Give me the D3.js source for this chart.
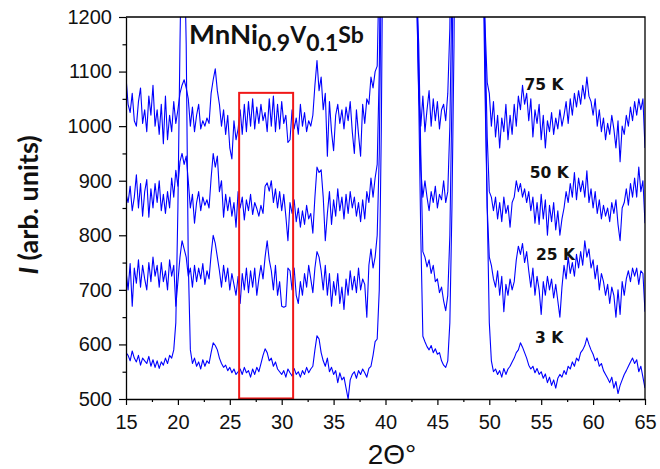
<!DOCTYPE html>
<html>
<head>
<meta charset="utf-8">
<script src="https://cdn.jsdelivr.net/npm/d3@7/dist/d3.min.js"></script>
<style>
  html, body { margin: 0; padding: 0; background: #fff; }
  svg { display: block; }
</style>
</head>
<body>
<svg id="chart" width="660" height="469"></svg>
<script>
// XRD scans of MnNi0.9V0.1Sb at four temperatures, 2θ from 15° to 65° in 0.2° steps
const scanStart = 15;
const scanStep = 0.2;

const i75K = [
  1090, 1040, 1025, 1060, 1010,  1000, 1045, 1070, 1005, 1030,
  990, 1055, 1020, 1075, 1000,   1030, 985, 1040, 968, 1055,
  975, 1020, 990, 1045, 1005,    1030, 1060, 1075, 1085, 1070,
  1050, 1000, 1035, 990, 1020,   1040, 995, 1010, 1000, 1015,
  1005, 1060, 1085, 1105, 1065,  1040, 1000, 1030, 985, 1020,
  960, 940, 1010, 975, 995,      1030, 985, 1040, 990, 1045,
  1000, 1050, 995, 1035, 1005,   1040, 1010, 1025, 990, 1050,
  1000, 1055, 990, 1040, 995,    1045, 1005, 1020, 970, 975,
  1030, 995, 1015, 985, 1040,    1000, 1025, 990, 1010, 1000,
  1020, 1075, 1120, 1065, 1090,  1030, 1060, 945, 1045, 990,
  955, 1020, 1040, 1005, 1030,   995, 1035, 1010, 1045, 990,
  950, 1030, 985, 945, 1040,     1005, 1050, 1040, 1090, 1070,
  1100, 1110, 1300, 1800, 2500,  3200, 4000, 5000, 5000, 4500,
  4000, 3500, 3000, 2500, 2100,  1800, 1600, 1450, 1350, 1280,
  1250, 1060, 1000, 1055, 990,   1030, 1065, 1000, 1050, 1010,
  1045, 995, 1030, 1040, 1010,   1060, 1180, 1500, 2200, 3000,
  4000, 5000, 5000, 4500, 4000,  3500, 3000, 2500, 2200, 1900,
  1700, 1500, 1300, 1180, 1080,  1060, 1000, 1045, 980, 1020,
  960, 1015, 990, 1040, 975,     1020, 985, 1040, 1000, 1055,
  1030, 1075, 1040, 1060, 1010,  1050, 980, 1030, 1005, 1040,
  975, 1020, 960, 1010, 990,     1025, 985, 1015, 995, 1030,
  1000, 1020, 1045, 1005, 1050,  1020, 1060, 1035, 1065, 1040,
  1075, 1050, 1090, 1055, 1045,  1020, 1050, 1000, 1030, 990,
  1015, 975, 1005, 985, 1020,    995, 960, 1010, 935, 1000,
  985, 1020, 1000, 1035, 1010,   1045, 1020, 1050, 1030, 1050,
  960
];

const i50K = [
  876, 860, 890, 845, 870,   911, 850, 895, 835, 880,
  902, 833, 885, 850, 895,   860, 900, 845, 875, 840,
  880, 850, 905, 870, 919,   890, 935, 950, 930, 945,
  900, 850, 875, 822, 860,   880, 845, 870, 855, 865,
  850, 905, 950, 925, 945,   880, 900, 833, 875, 845,
  870, 835, 860, 815, 880,   850, 870, 828, 865, 845,
  875, 838, 860, 849, 835,   855, 840, 890, 896, 881,
  900, 860, 885, 850, 880,   845, 875, 835, 790, 860,
  840, 865, 825, 850, 815,   845, 820, 855, 830, 840,
  804, 870, 925, 915, 920,   870, 790, 840, 880, 820,
  865, 835, 885, 845, 870,   830, 875, 840, 880, 850,
  870, 835, 860, 825, 865,   830, 880, 860, 905, 870,
  905, 930, 1100, 1500, 2200,  3000, 4000, 5000, 5000, 4500,
  4000, 3500, 3000, 2500, 2200,  1900, 1700, 1550, 1450, 1350,
  1280, 1100, 920, 870, 900,   870, 845, 880, 860, 890,
  850, 875, 865, 900, 860,   880, 1000, 1250, 1800, 2600,
  3500, 5000, 5000, 4500, 4000,  3500, 3000, 2600, 2300, 2000,
  1800, 1550, 1350, 1150, 980,   880, 870, 845, 870, 830,
  860, 825, 870, 840, 855,   815, 860, 870, 900, 880,
  895, 870, 885, 860, 880,   845, 870, 822, 860, 820,
  875, 830, 865, 800, 855,   825, 860, 810, 845, 800,
  830, 850, 880, 860, 895,   870, 915, 865, 905, 880,
  900, 870, 918, 860, 885,   850, 880, 840, 865, 830,
  855, 835, 850, 825, 860,   840, 865, 820, 790, 850,
  860, 885, 855, 895, 870,   905, 870, 925, 880, 900,
  822
];

const i25K = [
  735, 700, 748, 670, 740,   712, 755, 705, 745, 720,
  700, 750, 715, 760, 725,   745, 705, 750, 715, 735,
  700, 755, 725, 745, 670,   715, 760, 790, 775, 760,
  725, 740, 705, 745, 715,   740, 720, 748, 710, 735,
  720, 765, 800, 785, 760,   735, 705, 745, 715, 740,
  700, 730, 710, 690, 725,   675, 730, 700, 740, 695,
  735, 705, 740, 690, 720,   745, 720, 760, 790, 755,
  735, 700, 745, 690, 715,   670, 668, 670, 740, 735,
  700, 740, 690, 675, 715,   690, 730, 705, 745, 720,
  695, 740, 770, 760, 735,   700, 745, 690, 730, 670,
  715, 690, 730, 675, 705,   664, 720, 690, 735, 700,
  725, 695, 740, 700, 720,   710, 650, 745, 775, 740,
  760, 800, 950, 1300, 2000,  3000, 4000, 5000, 5000, 4500,
  4000, 3500, 3000, 2600, 2300,  2000, 1800, 1600, 1450, 1350,
  1250, 1150, 950, 770, 760,   742, 755, 730, 745, 715,
  720, 695, 705, 680, 662,   690, 800, 1050, 1500, 2200,
  3500, 5000, 5000, 4500, 4000,  3500, 3000, 2700, 2400, 2100,
  1900, 1600, 1300, 1050, 850,   760, 745, 720, 705, 735,
  690, 725, 660, 710, 690,   720, 700, 715, 755, 780,
  765, 785, 750, 770, 735,   705, 740, 690, 725, 700,
  655, 715, 690, 725, 700,   720, 685, 710, 680, 650,
  705, 745, 720, 760, 730,   750, 725, 765, 740, 770,
  745, 790, 760, 775, 740,   755, 720, 745, 700, 730,
  715, 690, 710, 675, 705,   690, 650, 700, 655, 715,
  690, 720, 735, 715, 740,   725, 740, 710, 735, 730,
  660
];

const i3K = [
  585, 580, 570, 588, 575,   568, 580, 562, 575, 570,
  565, 578, 560, 572, 558,   570, 556, 568, 562, 575,
  565, 580, 575, 590, 640,   850, 1150, 1400, 1350, 1150,
  750, 590, 565, 575, 560,   568, 555, 572, 560, 570,
  565, 585, 603, 598, 590,   575, 565, 558, 562, 552,
  558, 548, 555, 545, 550,   555, 545, 558, 548, 552,
  540, 555, 545, 558, 550,   565, 580, 592, 585, 570,
  575, 560, 568, 555, 550,   545, 552, 540, 555, 548,
  542, 556, 545, 550, 540,   552, 545, 558, 548, 555,
  560, 590, 616, 610, 585,   570, 560, 575, 550, 558,
  545, 552, 530, 548, 535,   540, 520, 500, 535, 545,
  550, 538, 552, 545, 555,   548, 540, 556, 560, 580,
  605, 610, 700, 1000, 1500,  2500, 4000, 5000, 5000, 4500,
  4000, 3500, 3000, 2700, 2400,  2100, 1900, 1700, 1500, 1350,
  1250, 1050, 800, 615, 605,   596, 590, 598, 585, 592,
  582, 585, 570, 562, 558,   570, 640, 850, 1150, 1700,
  3000, 5000, 5000, 4500, 4000,  3500, 3000, 2800, 2500, 2200,
  2000, 1700, 1400, 1100, 850,   640, 570, 550, 555, 545,
  552, 540, 556, 545, 555,   560, 568, 575, 585, 590,
  603, 595, 585, 575, 562,   555, 560, 548, 556, 545,
  550, 538, 546, 530, 540,   525, 535, 520, 538, 545,
  540, 552, 545, 560, 555,   568, 560, 575, 570, 585,
  590, 598, 612, 600, 590,   582, 570, 575, 560, 565,
  552, 545, 538, 530, 540,   520, 532, 510, 525, 535,
  545, 552, 560, 568, 575,   565, 572, 550, 560, 540,
  520
];

const seriesNames = ["75 K", "50 K", "25 K", "3 K"];
const seriesValues = [i75K, i50K, i25K, i3K];

const xTicks = [15, 20, 25, 30, 35, 40, 45, 50, 55, 60, 65];
const xMinorTicks = [17.5, 22.5, 27.5, 32.5, 37.5, 42.5, 47.5, 52.5, 57.5, 62.5];
const yTicks = [500, 600, 700, 800, 900, 1000, 1100, 1200];
const yMinorTicks = [550, 650, 750, 850, 950, 1050, 1150];

// highlighted window in the low-angle region
const windowTwoTheta = [25.9, 31.1];
const windowIntensity = [501, 1061];

const svg = d3.select("#chart");
const plot = { left: 126, right: 645, top: 17, bottom: 399 };

const x = d3.scaleLinear().domain([15, 65]).range([plot.left, plot.right]);
const y = d3.scaleLinear().domain([500, 1200]).range([plot.bottom, plot.top]);

svg.append("defs").append("clipPath").attr("id", "plotClip")
  .append("rect")
  .attr("x", plot.left).attr("y", plot.top)
  .attr("width", plot.right - plot.left).attr("height", plot.bottom - plot.top);

// scan curves
const line = d3.line()
  .x((d, i) => x(scanStart + i * scanStep))
  .y(d => y(d));

svg.append("g").attr("clip-path", "url(#plotClip)")
  .selectAll("path")
  .data(seriesValues)
  .join("path")
  .attr("d", line)
  .attr("fill", "none")
  .attr("stroke", "#0000ff")
  .attr("stroke-width", 1.1)
  .attr("stroke-linejoin", "round");

// red window
svg.append("rect")
  .attr("x", x(windowTwoTheta[0]))
  .attr("y", y(windowIntensity[1]))
  .attr("width", x(windowTwoTheta[1]) - x(windowTwoTheta[0]))
  .attr("height", y(windowIntensity[0]) - y(windowIntensity[1]))
  .attr("fill", "none")
  .attr("stroke", "#f01818")
  .attr("stroke-width", 2);

// frame on top and right
svg.append("path")
  .attr("d", `M${plot.left},${plot.top}H${plot.right}V${plot.bottom}`)
  .attr("fill", "none").attr("stroke", "#000").attr("stroke-width", 1.3);

const tickFont = "'Liberation Sans', Arial, sans-serif";

// x axis
svg.append("g").attr("transform", `translate(0,${plot.bottom})`)
  .call(d3.axisBottom(x).tickValues(xTicks).tickFormat(d3.format("d"))
    .tickSize(6).tickPadding(10).tickSizeOuter(0));
svg.append("g").attr("transform", `translate(0,${plot.bottom})`)
  .call(d3.axisBottom(x).tickValues(xMinorTicks).tickSize(3).tickFormat("").tickSizeOuter(0))
  .select(".domain").remove();

// y axis
svg.append("g").attr("transform", `translate(${plot.left},0)`)
  .call(d3.axisLeft(y).tickValues(yTicks).tickFormat(d3.format("d"))
    .tickSize(7).tickPadding(7).tickSizeOuter(0));
svg.append("g").attr("transform", `translate(${plot.left},0)`)
  .call(d3.axisLeft(y).tickValues(yMinorTicks).tickSize(3.5).tickFormat("").tickSizeOuter(0))
  .select(".domain").remove();

svg.selectAll(".domain").attr("stroke", "#000").attr("stroke-width", 1.3);
svg.selectAll(".tick line").attr("stroke", "#000").attr("stroke-width", 1.2);
svg.selectAll(".tick text")
  .attr("font-family", tickFont)
  .attr("font-size", 20)
  .attr("fill", "#111");

// axis titles
svg.append("text")
  .attr("x", 392).attr("y", 464)
  .attr("text-anchor", "middle")
  .attr("font-family", tickFont)
  .attr("font-size", 28)
  .attr("fill", "#111")
  .text("2Θ°");

const yTitle = svg.append("text")
  .attr("transform", "translate(38,205) rotate(-90)")
  .attr("text-anchor", "middle")
  .attr("font-family", "Lato, 'Open Sans', sans-serif")
  .attr("font-weight", "bold")
  .attr("font-size", 27)
  .attr("fill", "#111");
yTitle.append("tspan").attr("font-style", "italic").text("I");
yTitle.append("tspan").text(" (arb. units)");

// compound name
const title = svg.append("text")
  .attr("x", 189).attr("y", 44)
  .attr("font-family", "Lato, 'Open Sans', sans-serif")
  .attr("font-weight", "bold")
  .attr("fill", "#111");
title.append("tspan").attr("font-size", 27.5).text("MnNi");
title.append("tspan").attr("font-size", 23).attr("dy", 7).text("0.9");
title.append("tspan").attr("font-size", 23).attr("dy", -8).text("V");
title.append("tspan").attr("font-size", 23).attr("dy", 8).text("0.1");
title.append("tspan").attr("font-size", 23).attr("dy", -8).text("Sb");

// temperature labels
const labelAnchors = [[53.4, 1066], [53.9, 905], [54.5, 755], [54.4, 603]];
svg.append("g").selectAll("text")
  .data(seriesNames)
  .join("text")
  .attr("x", (d, i) => x(labelAnchors[i][0]))
  .attr("y", (d, i) => y(labelAnchors[i][1]))
  .attr("font-family", "'DejaVu Sans', Verdana, sans-serif")
  .attr("font-weight", "bold")
  .attr("font-size", 15.5)
  .attr("fill", "#111")
  .text(d => d);
</script>
</body>
</html>
